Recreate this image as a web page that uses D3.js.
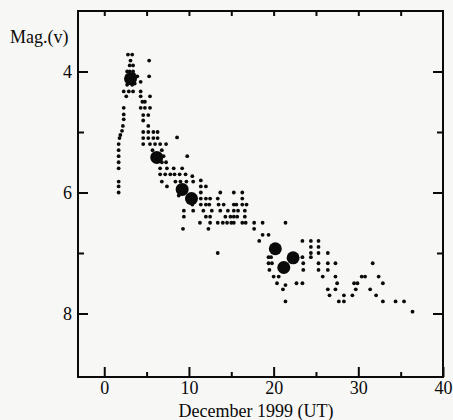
<!DOCTYPE html>
<html>
<head>
<meta charset="utf-8">
<script src="https://cdn.jsdelivr.net/npm/d3@7"></script>
<style>
  html, body { margin: 0; padding: 0; background: #f7f7f5; }
  #chart { width: 453px; height: 420px; }
  text { font-family: "Liberation Serif", "Times New Roman", serif; fill: #0a0a0a; }
</style>
</head>
<body>
<div id="chart"></div>
<script>
// -------------------- DATA --------------------
// individual visual estimates [day of Dec 1999, magnitude]
const visualObs = [
  [1.7,5.2],[1.7,5.3],[1.7,5.4],[1.7,5.5],[1.7,5.6],[1.7,5.82],[1.7,5.9],[1.7,6.0],
  [1.8,5.1],[1.9,5.05],[2.1,4.98],[2.2,4.9],[2.3,4.79],[2.3,4.71],[2.3,4.6],[2.3,4.33],
  [2.8,3.72],[3.3,3.72],[3.1,3.82],[3.0,3.9],[3.4,3.9],[2.7,4.0],[3.0,4.0],[3.4,4.0],
  [3.9,4.08],[2.8,4.08],[3.5,4.05],[3.6,4.2],[2.7,4.22],[3.3,4.22],[4.3,4.17],
  [2.9,4.33],[3.4,4.33],[4.3,4.33],[2.6,4.41],[5.3,3.82],[5.3,4.08],
  [4.3,4.41],[5.4,4.41],[4.5,4.5],[4.8,4.5],[4.3,4.6],[4.8,4.6],[5.4,4.6],
  [4.6,4.72],[5.2,4.72],[4.6,4.81],[5.2,4.9],
  [4.6,5.0],[5.2,5.0],[5.8,5.0],[6.3,5.0],
  [4.6,5.1],[5.2,5.1],[5.8,5.1],[6.3,5.1],[8.6,5.09],
  [4.6,5.2],[5.4,5.2],[6.0,5.2],[6.6,5.2],[7.3,5.2],
  [5.7,5.3],[6.8,5.3],[7.0,5.4],[9.8,5.4],[6.8,5.5],[7.3,5.5],
  [6.6,5.6],[7.4,5.6],[8.2,5.6],[9.2,5.6],
  [6.6,5.7],[7.2,5.7],[7.8,5.7],[8.3,5.7],[8.9,5.7],[9.6,5.7],[10.4,5.73],
  [6.8,5.82],[8.4,5.82],[9.0,5.82],[9.7,5.82],[10.5,5.82],[11.4,5.8],
  [7.4,5.9],[11.4,5.9],[12.0,5.9],[8.8,6.05],
  [11.4,6.0],[13.7,6.0],[15.3,6.0],[16.3,6.0],
  [11.4,6.1],[12.0,6.1],[12.5,6.1],[13.4,6.1],[16.3,6.1],
  [10.4,6.2],[11.4,6.2],[12.0,6.2],[12.4,6.2],[13.5,6.2],[14.1,6.2],[15.3,6.2],[15.6,6.2],[16.3,6.2],[16.8,6.2],
  [9.4,6.3],[10.5,6.3],[11.7,6.3],[12.7,6.3],[13.7,6.3],[14.6,6.3],[15.3,6.3],[15.8,6.3],[16.6,6.3],
  [9.4,6.4],[12.0,6.4],[12.5,6.4],[14.3,6.4],[14.9,6.4],[15.3,6.4],[15.7,6.4],[16.6,6.4],
  [11.3,6.5],[12.5,6.5],[13.4,6.5],[14.0,6.5],[14.5,6.5],[15.0,6.5],[15.3,6.5],[16.3,6.5],[16.7,6.5],[17.7,6.5],[18.7,6.5],[21.4,6.5],
  [9.3,6.6],[12.3,6.6],[17.7,6.6],
  [18.7,6.7],[19.4,6.7],[18.3,6.8],[13.4,7.0],
  [23.4,6.8],[24.4,6.8],[25.3,6.8],[25.3,6.9],[24.4,6.9],
  [24.4,7.0],[25.3,7.0],[26.4,7.0],
  [19.4,7.07],[19.7,7.07],[23.4,7.07],[24.4,7.07],
  [19.4,7.17],[19.8,7.17],[23.5,7.17],[25.3,7.17],[26.4,7.17],[27.3,7.17],[31.7,7.17],
  [19.5,7.28],[23.5,7.28],[25.3,7.28],[26.4,7.28],
  [20.0,7.39],[20.6,7.39],[25.8,7.39],[27.3,7.39],[30.4,7.39],[30.8,7.39],[32.4,7.39],
  [20.4,7.5],[21.4,7.53],[22.7,7.5],[23.4,7.5],[27.5,7.5],[29.5,7.5],[29.9,7.5],[32.9,7.5],
  [21.1,7.6],[26.4,7.6],[27.3,7.6],[29.7,7.6],[31.4,7.6],
  [26.6,7.7],[28.3,7.7],[29.3,7.7],[32.1,7.7],
  [21.4,7.8],[27.7,7.8],[28.3,7.8],[32.9,7.8],[34.4,7.8],[35.4,7.8],
  [36.4,7.97]
];

// larger symbols: averaged / instrumental points
const meanObs = [
  [3.1,4.12],[6.2,5.42],[9.2,5.95],[10.3,6.1],[20.2,6.93],[21.2,7.24],[22.3,7.08]
];

const xMajorTicks = [0, 10, 20, 30, 40];
const xMinorTicks = [5, 15, 25, 35];
const yMajorTicks = [4, 6, 8];
const yMinorTicks = [5, 7];

const xTitle = "December 1999 (UT)";
const yTitle = "Mag.(v)";

// -------------------- LAYOUT --------------------
const W = 453, H = 420;
const plotL = 78, plotR = 443, plotT = 11, plotB = 377;

const x = d3.scaleLinear().domain([-3.1, 40]).range([plotL, plotR]);
const y = d3.scaleLinear().domain([3, 9.05]).range([plotT, plotB]);

const svg = d3.select("#chart").append("svg")
  .attr("width", W)
  .attr("height", H);

const fontSize = 18;

// bottom axis, ticks pointing inward
svg.append("g")
  .attr("transform", `translate(0,${plotB})`)
  .call(d3.axisBottom(x).tickValues(xMajorTicks).tickSize(-10).tickPadding(4).tickFormat(d3.format("d")));
svg.append("g")
  .attr("transform", `translate(0,${plotB})`)
  .call(d3.axisBottom(x).tickValues(xMinorTicks).tickSize(-5).tickFormat(""));

// top axis
svg.append("g")
  .attr("transform", `translate(0,${plotT})`)
  .call(d3.axisTop(x).tickValues(xMajorTicks.concat(xMinorTicks).filter(d => d < 40)).tickSize(-5).tickFormat(""));

// left axis
svg.append("g")
  .attr("transform", `translate(${plotL},0)`)
  .call(d3.axisLeft(y).tickValues(yMajorTicks).tickSize(-10).tickPadding(6).tickFormat(d3.format("d")));
svg.append("g")
  .attr("transform", `translate(${plotL},0)`)
  .call(d3.axisLeft(y).tickValues(yMinorTicks).tickSize(-6).tickFormat(""));

// right axis
svg.append("g")
  .attr("transform", `translate(${plotR},0)`)
  .call(d3.axisRight(y).tickValues(yMajorTicks).tickSize(-10).tickFormat(""));
svg.append("g")
  .attr("transform", `translate(${plotR},0)`)
  .call(d3.axisRight(y).tickValues(yMinorTicks).tickSize(-6).tickFormat(""));

svg.selectAll(".domain").remove();
svg.selectAll(".tick line").attr("stroke", "#0a0a0a").attr("stroke-width", 2);
svg.selectAll(".tick text")
  .style("font-family", "'Liberation Serif', 'Times New Roman', serif")
  .style("font-size", fontSize + "px")
  .attr("fill", "#0a0a0a");

// frame
svg.append("rect")
  .attr("x", plotL)
  .attr("y", plotT)
  .attr("width", plotR - plotL)
  .attr("height", plotB - plotT)
  .attr("fill", "none")
  .attr("stroke", "#0a0a0a")
  .attr("stroke-width", 2);

// small dots
svg.append("g")
  .selectAll("circle")
  .data(visualObs)
  .join("circle")
  .attr("cx", d => x(d[0]))
  .attr("cy", d => y(d[1]))
  .attr("r", 1.9)
  .attr("fill", "#0a0a0a");

// big dots
svg.append("g")
  .selectAll("circle")
  .data(meanObs)
  .join("circle")
  .attr("cx", d => x(d[0]))
  .attr("cy", d => y(d[1]))
  .attr("r", 6.5)
  .attr("fill", "#0a0a0a");

// titles
svg.append("text")
  .attr("x", 256)
  .attr("y", 417)
  .attr("text-anchor", "middle")
  .style("font-size", fontSize + "px")
  .text(xTitle);

svg.append("text")
  .attr("x", 10)
  .attr("y", 43)
  .style("font-size", fontSize + "px")
  .text(yTitle);
</script>
</body>
</html>
